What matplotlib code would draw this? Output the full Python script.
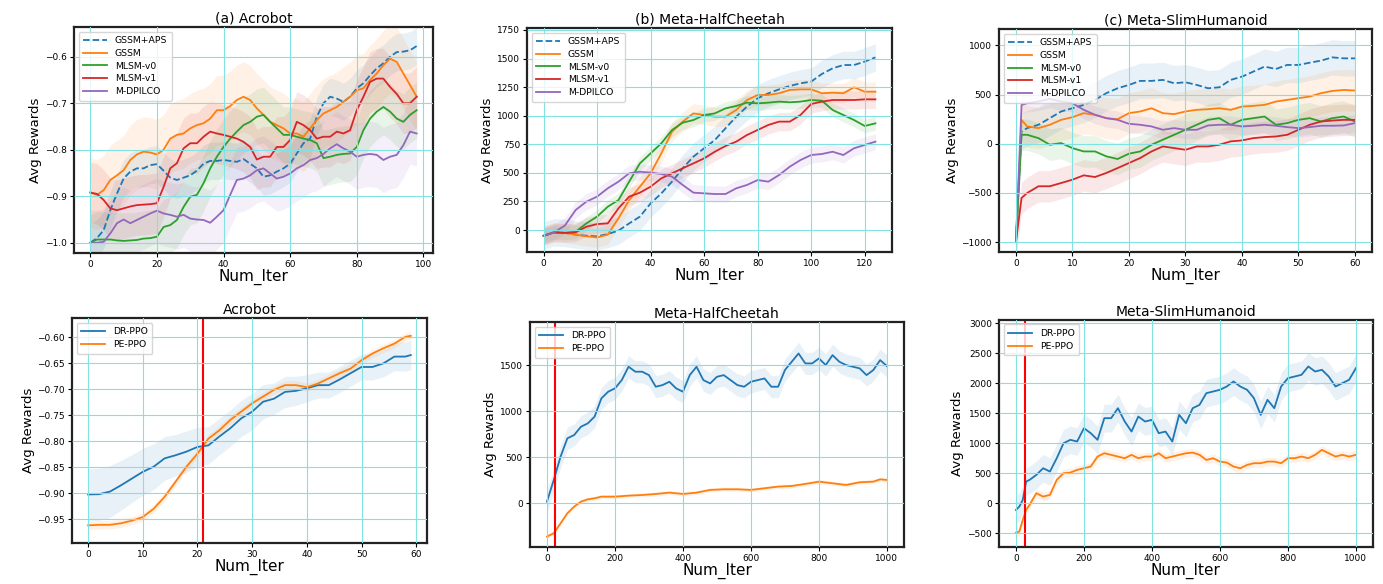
import numpy as np
import matplotlib
matplotlib.use("Agg")
import matplotlib.pyplot as plt

# ---- top row: (a) Acrobot ----
xa = np.arange(0, 100, 2)
a_gssm_aps = [-1.0, -0.99, -0.973, -0.93, -0.894, -0.862, -0.847, -0.84, -0.84, -0.833,
              -0.831, -0.845, -0.86, -0.865, -0.86, -0.855, -0.845, -0.83, -0.824, -0.824,
              -0.822, -0.824, -0.826, -0.82, -0.83, -0.84, -0.858, -0.855, -0.847, -0.84,
              -0.83, -0.808, -0.786, -0.776, -0.729, -0.70, -0.686, -0.69, -0.697, -0.686,
              -0.668, -0.657, -0.64, -0.625, -0.614, -0.60, -0.59, -0.589, -0.586, -0.577]
a_gssm = [-0.892, -0.897, -0.887, -0.865, -0.855, -0.844, -0.822, -0.81, -0.804, -0.806,
          -0.81, -0.80, -0.776, -0.768, -0.765, -0.754, -0.747, -0.743, -0.733, -0.715,
          -0.715, -0.706, -0.693, -0.686, -0.693, -0.711, -0.725, -0.74, -0.747, -0.754,
          -0.765, -0.765, -0.772, -0.754, -0.736, -0.722, -0.715, -0.708, -0.697, -0.686,
          -0.672, -0.668, -0.65, -0.636, -0.618, -0.604, -0.611, -0.636, -0.661, -0.686]
a_mlsm_v0 = [-1.0, -0.993, -0.993, -0.993, -0.995, -0.996, -0.995, -0.994, -0.991, -0.99,
             -0.987, -0.966, -0.962, -0.951, -0.923, -0.901, -0.897, -0.872, -0.84, -0.815,
             -0.794, -0.776, -0.761, -0.747, -0.74, -0.729, -0.725, -0.74, -0.754, -0.768,
             -0.768, -0.772, -0.776, -0.779, -0.786, -0.818, -0.815, -0.811, -0.809, -0.808,
             -0.794, -0.758, -0.733, -0.718, -0.708, -0.718, -0.733, -0.74, -0.725, -0.715]
a_mlsm_v1 = [-0.892, -0.895, -0.908, -0.926, -0.93, -0.926, -0.922, -0.919, -0.918, -0.917,
             -0.915, -0.88, -0.84, -0.829, -0.797, -0.786, -0.786, -0.772, -0.761, -0.765,
             -0.768, -0.772, -0.776, -0.783, -0.794, -0.821, -0.815, -0.815, -0.794, -0.794,
             -0.779, -0.74, -0.747, -0.758, -0.776, -0.772, -0.772, -0.761, -0.765, -0.758,
             -0.715, -0.686, -0.654, -0.647, -0.647, -0.665, -0.68, -0.70, -0.70, -0.686]
a_mdpilco = [-1.0, -1.0, -0.998, -0.98, -0.958, -0.95, -0.958, -0.951, -0.944, -0.937,
             -0.931, -0.937, -0.94, -0.944, -0.94, -0.948, -0.95, -0.951, -0.957, -0.944,
             -0.93, -0.897, -0.865, -0.862, -0.855, -0.844, -0.84, -0.851, -0.862, -0.858,
             -0.851, -0.84, -0.833, -0.822, -0.818, -0.809, -0.797, -0.788, -0.797, -0.804,
             -0.815, -0.811, -0.809, -0.811, -0.822, -0.815, -0.811, -0.79, -0.761, -0.765]
a_std = [0.04, 0.075, 0.06, 0.065, 0.07]

# ---- top row: (b) Meta-HalfCheetah ----
xb = np.arange(0, 125, 4)
b_gssm_aps = [-50, -20, -25, -40, -50, -55, -35, -5, 58, 117, 233, 320, 423, 540, 642, 715,
              787, 890, 992, 1079, 1152, 1196, 1230, 1260, 1283, 1298, 1365, 1414, 1443, 1443, 1473, 1510]
b_gssm = [-50, -20, -25, -40, -55, -65, -40, 102, 262, 379, 496, 670, 860, 948, 1020, 1006,
          991, 991, 1050, 1137, 1181, 1181, 1196, 1225, 1230, 1230, 1196, 1201, 1196, 1248, 1210, 1210]
b_mlsm_v0 = [-50, -20, -25, -15, 58, 117, 204, 262, 423, 583, 670, 758, 875, 939, 962, 1006,
             1020, 1064, 1085, 1114, 1108, 1114, 1123, 1117, 1123, 1137, 1131, 1050, 1006, 962, 910, 933]
b_mlsm_v1 = [-50, -20, -25, -20, 29, 52, 58, 190, 292, 327, 379, 452, 496, 540, 583, 627,
             685, 735, 773, 831, 875, 919, 948, 948, 1006, 1102, 1123, 1137, 1137, 1137, 1143, 1143]
b_mdpilco = [-50, -20, 40, 175, 248, 292, 365, 423, 496, 510, 502, 490, 467, 394, 327, 321,
             315, 315, 365, 394, 437, 423, 481, 554, 612, 656, 665, 685, 656, 715, 744, 773]
b_std = [120, 85, 60, 80, 70]

# ---- top row: (c) Meta-SlimHumanoid ----
xc = [0, 1] + list(range(2, 61, 2))
c_gssm_aps = [-1000, 125, 159, 193, 260, 328, 361, 395, 446, 514, 564, 598, 639,
              639, 649, 615, 625, 598, 564, 574, 649, 682, 733,
              784, 760, 801, 801, 824, 845, 878, 868, 868]
c_gssm = [-1000, 243, 176, 159, 193, 243, 270, 311, 294, 260, 250, 311, 328,
          361, 311, 301, 328, 345, 351, 361, 345, 378, 385,
          395, 429, 446, 463, 480, 514, 537, 547, 541]
c_mlsm_v0 = [-1000, 91, 91, 57, -10, 7, -44, -78, -78, -128, -155, -101, -78,
             -10, 41, 91, 142, 193, 243, 260, 193, 243, 260,
             277, 193, 210, 243, 260, 226, 260, 277, 226]
c_mlsm_v1 = [-1000, -551, -500, -432, -432, -399, -365, -321, -338, -297, -247, -196, -145,
             -78, -27, -44, -61, -27, -27, -10, 24, 34, 57,
             68, 74, 91, 142, 193, 226, 236, 243, 243]
c_mdpilco = [-1000, 395, 412, 429, 456, 429, 412, 345, 294, 260, 243, 203, 193,
             176, 142, 159, 142, 142, 186, 193, 193, 176, 183,
             193, 183, 169, 159, 169, 183, 183, 186, 210]
c_std = [180, 210, 160, 160, 90]

labels_top = ["GSSM+APS", "GSSM", "MLSM-v0", "MLSM-v1", "M-DPILCO"]

# ---- bottom row: (d) Acrobot ----
xd = list(range(0, 59, 2)) + [59]
d_dr = [-0.9025, -0.902, -0.897, -0.885, -0.872, -0.859, -0.849, -0.833, -0.827, -0.82, -0.811,
        -0.808, -0.791, -0.775, -0.756, -0.743, -0.724, -0.718, -0.705, -0.703, -0.698,
        -0.692, -0.692, -0.681, -0.669, -0.657, -0.657, -0.65, -0.637, -0.637, -0.634]
d_pe = [-0.962, -0.961, -0.961, -0.958, -0.953, -0.946, -0.93, -0.907, -0.878, -0.849, -0.824,
        -0.795, -0.779, -0.759, -0.743, -0.727, -0.714, -0.701, -0.692, -0.692, -0.696,
        -0.689, -0.679, -0.669, -0.66, -0.644, -0.631, -0.621, -0.612, -0.599, -0.597]
d_dr_std = [0.05, 0.05, 0.05, 0.048, 0.046, 0.045, 0.044, 0.042, 0.04, 0.04, 0.038,
            0.036, 0.035, 0.035, 0.035, 0.035, 0.033, 0.03, 0.03, 0.028, 0.026,
            0.025, 0.025, 0.025, 0.025, 0.025, 0.025, 0.026, 0.027, 0.028, 0.028]
d_pe_std = 0.008
d_switch = 21

# ---- bottom row: (e) Meta-HalfCheetah ----
xe_dr = np.arange(0, 1001, 20)
e_dr = [18, 253, 506, 705, 741, 831, 867, 940, 1138, 1211,
        1247, 1337, 1482, 1428, 1428, 1391, 1265, 1283, 1319, 1247,
        1211, 1391, 1482, 1337, 1301, 1373, 1391, 1337, 1283, 1265,
        1319, 1337, 1355, 1265, 1265, 1446, 1536, 1626, 1518, 1518,
        1572, 1500, 1608, 1536, 1500, 1482, 1464, 1391, 1446, 1554, 1489]
xe_pe = [0, 20, 40, 60, 80, 100, 120, 140, 160, 180, 200, 240, 280, 320, 360, 400,
         440, 480, 520, 560, 600, 640, 680, 720, 760, 800, 840, 880, 920, 960, 980, 1000]
e_pe = [-361, -325, -217, -108, -36, 18, 43, 54, 72, 72, 72, 83, 90, 101, 116, 101,
        116, 145, 152, 152, 145, 163, 181, 188, 210, 235, 217, 199, 228, 235, 260, 253]
e_dr_std = 120
e_pe_std = 22
e_switch = 24

# ---- bottom row: (f) Meta-SlimHumanoid ----
xf = [0, 10, 20, 30, 40] + list(range(60, 1001, 20))
f_dr = [-111, -56, 56, 361, 389,
        472, 583, 528, 750, 1000, 1056, 1028, 1250, 1167, 1056,
        1417, 1417, 1583, 1361, 1194, 1444, 1361, 1389, 1167, 1194,
        1028, 1472, 1333, 1583, 1639, 1833, 1861, 1889, 1944, 2028,
        1944, 1889, 1750, 1472, 1722, 1583, 1944, 2083, 2111, 2139,
        2278, 2194, 2222, 2111, 1944, 2000, 2056, 2250]
f_pe = [-489, -472, -278, -111, -28,
        167, 111, 139, 389, 500, 511, 556, 583, 611, 778,
        833, 806, 778, 750, 806, 750, 778, 778, 833, 750,
        778, 806, 833, 844, 806, 722, 750, 694, 678, 611,
        583, 639, 667, 667, 694, 694, 667, 750, 750, 778,
        750, 806, 889, 833, 778, 806, 778, 806]
f_dr_std = 230
f_pe_std = 70
f_switch = 28

labels_bottom = ["DR-PPO", "PE-PPO"]

colors = ["#1f77b4", "#ff7f0e", "#2ca02c", "#d62728", "#9467bd"]


def style_ax(ax, title):
    ax.set_title(title, fontsize=10, pad=3)
    ax.set_xlabel("Num_Iter", fontsize=11, labelpad=0)
    ax.set_ylabel("Avg Rewards", fontsize=9.5, labelpad=2)
    ax.tick_params(labelsize=6.5, length=3, pad=2)
    ax.grid(True, color="#80e2e2", lw=0.8)
    ax.set_axisbelow(False)
    for s in ax.spines.values():
        s.set_linewidth(1.6)
        s.set_color("#222222")


def draw_band(ax, x, y, std, color, label, ls="-"):
    y = np.asarray(y, dtype=float)
    std = np.asarray(std, dtype=float)
    ax.fill_between(x, y - std, y + std, color=color, alpha=0.1, lw=0)
    ax.plot(x, y, color=color, lw=1.3, ls=ls, label=label)


def legend(ax):
    ax.legend(loc="upper left", fontsize=6.7, handlelength=2.6, labelspacing=0.4,
              borderpad=0.5, framealpha=0.8, fancybox=True)


fig = plt.figure(figsize=(13.83, 5.84), dpi=100)

# (a)
ax = fig.add_axes([0.0535, 0.5668, 0.2596, 0.387])
top_a = [a_gssm_aps, a_gssm, a_mlsm_v0, a_mlsm_v1, a_mdpilco]
for i, ys in enumerate(top_a):
    draw_band(ax, xa, ys, a_std[i], colors[i], labels_top[i], "--" if i == 0 else "-")
ax.set_ylim(-1.022, -0.536)
ax.set_yticks([-1.0, -0.9, -0.8, -0.7, -0.6])
ax.set_xticks([0, 20, 40, 60, 80, 100])
style_ax(ax, "(a) Acrobot")
legend(ax)

# (b)
ax = fig.add_axes([0.381, 0.5685, 0.264, 0.3836])
top_b = [b_gssm_aps, b_gssm, b_mlsm_v0, b_mlsm_v1, b_mdpilco]
for i, ys in enumerate(top_b):
    draw_band(ax, xb, ys, b_std[i], colors[i], labels_top[i], "--" if i == 0 else "-")
ax.set_ylim(-192, 1767)
ax.set_yticks(range(0, 1751, 250))
ax.set_xticks(range(0, 121, 20))
style_ax(ax, "(b) Meta-HalfCheetah")
legend(ax)

# (c)
ax = fig.add_axes([0.7223, 0.5685, 0.2697, 0.3818])
top_c = [c_gssm_aps, c_gssm, c_mlsm_v0, c_mlsm_v1, c_mdpilco]
for i, ys in enumerate(top_c):
    draw_band(ax, xc, ys, c_std[i], colors[i], labels_top[i], "--" if i == 0 else "-")
ax.set_ylim(-1100, 1166)
ax.set_yticks([-1000, -500, 0, 500, 1000])
ax.set_xticks(range(0, 61, 10))
style_ax(ax, "(c) Meta-SlimHumanoid")
legend(ax)

# (d)
ax = fig.add_axes([0.052, 0.0702, 0.2567, 0.385])
draw_band(ax, xd, d_dr, d_dr_std, colors[0], labels_bottom[0])
draw_band(ax, xd, d_pe, d_pe_std, colors[1], labels_bottom[1])
ax.axvline(d_switch, color="red", lw=1.5)
ax.set_ylim(-0.996, -0.563)
ax.set_yticks([-0.95, -0.90, -0.85, -0.80, -0.75, -0.70, -0.65, -0.60])
ax.set_xticks(range(0, 61, 10))
style_ax(ax, "Acrobot")
legend(ax)

# (e)
ax = fig.add_axes([0.3832, 0.0634, 0.2704, 0.385])
draw_band(ax, xe_dr, e_dr, e_dr_std, colors[0], labels_bottom[0])
draw_band(ax, xe_pe, e_pe, e_pe_std, colors[1], labels_bottom[1])
ax.axvline(e_switch, color="red", lw=1.5)
ax.set_xlim(-50, 1050)
ax.set_ylim(-474, 1966)
ax.set_yticks([0, 500, 1000, 1500])
ax.set_xticks(range(0, 1001, 200))
style_ax(ax, "Meta-HalfCheetah")
legend(ax)

# (f)
ax = fig.add_axes([0.7223, 0.0634, 0.2704, 0.389])
draw_band(ax, xf, f_dr, f_dr_std, colors[0], labels_bottom[0])
draw_band(ax, xf, f_pe, f_pe_std, colors[1], labels_bottom[1])
ax.axvline(f_switch, color="red", lw=1.5)
ax.set_xlim(-50, 1050)
ax.set_ylim(-728, 3055)
ax.set_yticks(range(-500, 3001, 500))
ax.set_xticks(range(0, 1001, 200))
style_ax(ax, "Meta-SlimHumanoid")
legend(ax)

fig.savefig("out.png", dpi=100)
